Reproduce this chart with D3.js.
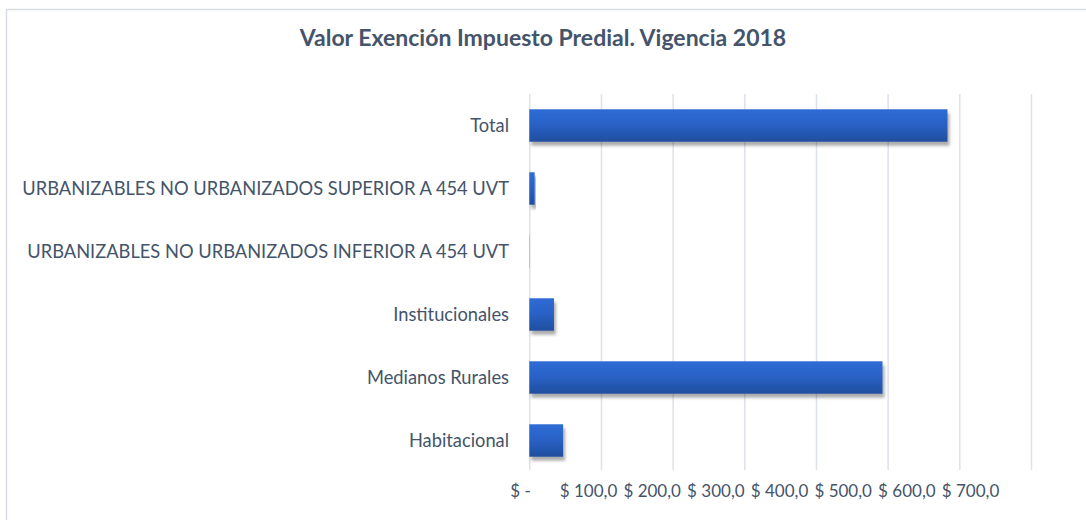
<!DOCTYPE html>
<html>
<head>
<meta charset="utf-8">
<script src="https://cdn.jsdelivr.net/npm/d3@7"></script>
<style>
  html, body { margin: 0; padding: 0; background: #ffffff; }
  svg { display: block; font-family: Lato, "Open Sans", sans-serif; }
</style>
</head>
<body>
<svg id="chart" width="1086" height="520"></svg>
<script>
// Exemption values by property category (millions of pesos)
const categories = [
  "Total",
  "URBANIZABLES NO URBANIZADOS SUPERIOR A 454 UVT",
  "URBANIZABLES NO URBANIZADOS INFERIOR A 454 UVT",
  "Institucionales",
  "Medianos Rurales",
  "Habitacional"
];
const values = [583.5, 7.5, 0.3, 34.4, 492.8, 47.2];
const tickValues = [0, 100, 200, 300, 400, 500, 600, 700];
const tickLabels = ["$ -\u00a0\u00a0", "$ 100,0", "$ 200,0", "$ 300,0", "$ 400,0", "$ 500,0", "$ 600,0", "$ 700,0"];
const titleText = "Valor Exención Impuesto Predial. Vigencia 2018";

const svg = d3.select("#chart");
const textColor = "#44546a";
const gridColor = "#dde1e8";

// chart frame
svg.append("rect")
  .attr("x", 6.5).attr("y", 9.5)
  .attr("width", 1100).attr("height", 540)
  .attr("fill", "#ffffff")
  .attr("stroke", "#d9dde3").attr("stroke-width", 1.5);

const defs = svg.append("defs");
const grad = defs.append("linearGradient")
  .attr("id", "barGrad").attr("x1", 0).attr("y1", 0).attr("x2", 0).attr("y2", 1);
grad.append("stop").attr("offset", "0%").attr("stop-color", "#2e6cd5");
grad.append("stop").attr("offset", "45%").attr("stop-color", "#2a62c6");
grad.append("stop").attr("offset", "100%").attr("stop-color", "#1f4e9f");

const shadow = defs.append("filter").attr("id", "barShadow")
  .attr("x", "-10%").attr("y", "-20%").attr("width", "130%").attr("height", "160%");
shadow.append("feDropShadow")
  .attr("dx", 2).attr("dy", 4).attr("stdDeviation", 1.6)
  .attr("flood-color", "#000000").attr("flood-opacity", 0.32);

const x = d3.scaleLinear().domain([0, 700]).range([529.3, 1031]);
const y = d3.scaleBand().domain(categories).range([94, 472])
  .paddingInner(0.485).paddingOuter(0.2425);

// vertical gridlines
svg.append("g")
  .attr("transform", "translate(0,470)")
  .call(d3.axisBottom(x).tickValues(tickValues).tickSize(-376).tickFormat(""))
  .call(g => g.select(".domain").remove())
  .call(g => g.selectAll(".tick line").attr("stroke", gridColor).attr("stroke-width", 1.5));

// bars
svg.append("g").selectAll("rect")
  .data(categories.map((c, i) => ({ c, v: values[i] })))
  .join("rect")
  .attr("x", x(0))
  .attr("y", d => y(d.c))
  .attr("width", d => x(d.v) - x(0))
  .attr("height", y.bandwidth())
  .attr("fill", "url(#barGrad)")
  .attr("filter", "url(#barShadow)");

// category labels
svg.append("g").selectAll("text")
  .data(categories)
  .join("text")
  .attr("x", 509)
  .attr("y", d => y(d) + y.bandwidth() / 2)
  .attr("dy", "0.36em")
  .attr("text-anchor", "end")
  .attr("fill", textColor)
  .attr("font-size", 18.3)
  .text(d => d);

// value axis labels (accounting format, compressed spacing)
const labelX = d3.scaleLinear().domain([100, 700]).range([588, 970]);
svg.append("g")
  .attr("transform", "translate(0,480)")
  .call(d3.axisBottom(labelX).tickValues(tickValues).tickSize(0)
    .tickFormat((d, i) => tickLabels[i]))
  .call(g => g.select(".domain").remove())
  .call(g => g.selectAll("text")
    .attr("fill", textColor)
    .attr("font-size", 17)
    .attr("font-family", "Lato, 'Open Sans', sans-serif")
    .style("white-space", "pre")
    .attr("dy", "0.8em"));

// title
svg.append("text")
  .attr("x", 543).attr("y", 46)
  .attr("text-anchor", "middle")
  .attr("fill", textColor)
  .attr("font-size", 23)
  .attr("font-weight", "bold")
  .text(titleText);
</script>
</body>
</html>
